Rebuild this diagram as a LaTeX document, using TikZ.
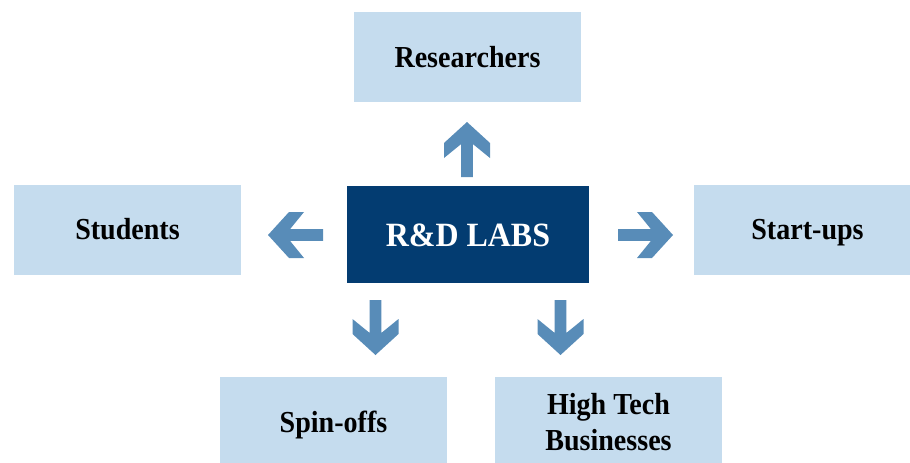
\documentclass[tikz,border=0pt]{standalone}
\usepackage{fontspec}
\setmainfont{Liberation Serif}
\newfontfamily\labfont[FakeStretch=0.92]{Liberation Serif}
\newfontfamily\labfontw[FakeStretch=0.94]{Liberation Serif}
\definecolor{lightbox}{RGB}{197,220,238}
\definecolor{darkbox}{RGB}{3,60,113}
\definecolor{arrowc}{RGB}{88,140,184}
\begin{document}
\begin{tikzpicture}[x=1pt,y=-1pt,
  lbox/.style={fill=lightbox, draw=none, minimum width=227pt, minimum height=90pt, inner sep=0pt,
    align=center, font=\labfont\bfseries\fontsize{30.5}{36.7}\selectfont, text=black},
  oneline/.style={text height=20.5pt, text depth=0pt},
  dbox/.style={fill=darkbox, draw=none, minimum width=242pt, minimum height=97pt, inner sep=0pt,
    font=\labfontw\bfseries\fontsize{34}{40}\selectfont, text=white, text height=23pt, text depth=0pt},
  blockarr/.pic={\fill[arrowc] (0,0) -- (-21,23) -- (-36,23) -- (-22,5.8) -- (-55,5.8)
     -- (-55,-5.8) -- (-22,-5.8) -- (-36,-23) -- (-21,-23) -- cycle;}]
\useasboundingbox (0,0) rectangle (910,463);
\node[dbox] (lab) at (468,234.5) {R\&D LABS};
\node[lbox,oneline] (res) at (467.5,57) {Researchers};
\node[lbox,oneline] (stu) at (127.5,229.5) {Students};
\node[lbox,oneline] (sta) at (807.5,229.5) {Start-ups};
\node[lbox,oneline] (spin) at (333.5,422) {Spin-offs};
\node[lbox] (htb) at (608.5,422) {High Tech\\Businesses};
\pic (aup) at (467,122) [rotate=90] {blockarr};
\pic (alt) at (268,235) [rotate=180] {blockarr};
\pic (art) at (673,235) {blockarr};
\pic (adl) at (375.5,355) [rotate=-90] {blockarr};
\pic (adr) at (560.5,355) [rotate=-90] {blockarr};
\end{tikzpicture}
\end{document}
